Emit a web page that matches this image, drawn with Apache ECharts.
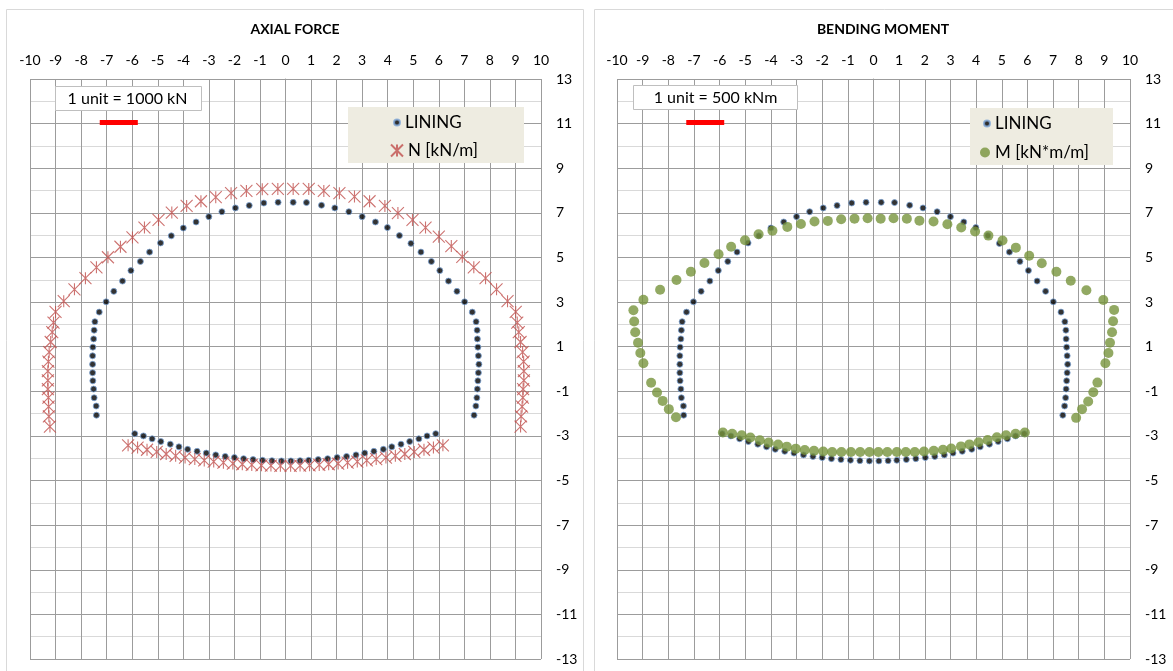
<!DOCTYPE html>
<html>
<head>
<meta charset="utf-8">
<script src="https://cdn.jsdelivr.net/npm/echarts@6/dist/echarts.min.js"></script>
<style>
  html, body { margin: 0; padding: 0; background: #fff; }
  #chart { width: 1173px; height: 671px; }
</style>
</head>
<body>
<div id="chart"></div>
<script>
// lining nodes: left wall (bottom -> top), crown, right wall (top -> bottom)
const liningArch = [
  [-7.40, -2.07], [-7.41, -1.66], [-7.49, -1.29], [-7.51, -0.90], [-7.54, -0.53], [-7.55, -0.17],
  [-7.55, 0.21], [-7.55, 0.59], [-7.54, 0.98], [-7.51, 1.35], [-7.49, 1.74], [-7.46, 2.12],
  [-7.29, 2.55], [-7.02, 3.01], [-6.72, 3.48], [-6.38, 3.94], [-6.05, 4.41], [-5.68, 4.82],
  [-5.32, 5.24], [-4.89, 5.65], [-4.47, 5.97], [-4.00, 6.32], [-3.50, 6.59], [-3.00, 6.83],
  [-2.49, 7.05], [-1.96, 7.22], [-1.42, 7.33], [-0.85, 7.44], [-0.29, 7.47], [0.30, 7.47],
  [0.82, 7.46], [1.41, 7.34], [1.93, 7.22], [2.48, 7.05], [3.00, 6.83], [3.52, 6.59],
  [3.99, 6.34], [4.46, 5.98], [4.91, 5.63], [5.30, 5.24], [5.71, 4.82], [6.04, 4.41],
  [6.38, 3.94], [6.71, 3.48], [7.01, 3.01], [7.31, 2.55],
  [7.46, 2.12], [7.50, 1.74], [7.51, 1.35], [7.53, 0.98], [7.55, 0.59], [7.57, 0.21],
  [7.55, -0.17], [7.53, -0.53], [7.51, -0.90], [7.49, -1.29], [7.45, -1.66], [7.38, -2.07]
]
const liningInvert = [
  [-5.90, -2.90], [-5.56, -3.00], [-5.22, -3.13], [-4.88, -3.25], [-4.51, -3.37], [-4.17, -3.49],
  [-3.83, -3.60], [-3.46, -3.69], [-3.10, -3.77], [-2.73, -3.85], [-2.36, -3.92], [-2.00, -3.97],
  [-1.64, -4.02], [-1.27, -4.06], [-0.90, -4.09], [-0.53, -4.11], [-0.16, -4.12], [0.21, -4.12],
  [0.57, -4.11], [0.91, -4.09], [1.28, -4.06], [1.65, -4.02], [2.02, -3.97], [2.39, -3.92],
  [2.76, -3.85], [3.10, -3.77], [3.46, -3.69], [3.83, -3.60], [4.16, -3.49], [4.52, -3.37],
  [4.86, -3.25], [5.22, -3.13], [5.54, -3.00], [5.88, -2.90]
]

// axial force N, plotted off the lining (1 unit = 1000 kN)
const axialArch = [
  [-9.22, -2.58], [-9.26, -2.12], [-9.27, -1.69], [-9.28, -1.28], [-9.30, -0.90], [-9.30, -0.51],
  [-9.30, -0.10], [-9.28, 0.33], [-9.25, 0.76], [-9.19, 1.21], [-9.13, 1.65], [-9.08, 2.08],
  [-9.00, 2.56], [-8.68, 3.04], [-8.26, 3.57], [-7.83, 4.07], [-7.40, 4.56], [-6.95, 5.01],
  [-6.46, 5.48], [-5.99, 5.90], [-5.52, 6.34], [-4.97, 6.68], [-4.45, 7.01], [-3.87, 7.31],
  [-3.31, 7.52], [-2.73, 7.70], [-2.13, 7.88], [-1.53, 7.98], [-0.91, 8.06], [-0.30, 8.07],
  [0.30, 8.07], [0.91, 8.07], [1.50, 7.98], [2.11, 7.88], [2.70, 7.73], [3.29, 7.52],
  [3.89, 7.31], [4.40, 6.99], [4.97, 6.68], [5.48, 6.34], [6.00, 5.93], [6.49, 5.51],
  [6.92, 5.03], [7.37, 4.56], [7.83, 4.07], [8.26, 3.57], [8.69, 3.04], [9.01, 2.56],
  [9.07, 2.08], [9.13, 1.65], [9.20, 1.21], [9.28, 0.76], [9.32, 0.33], [9.33, -0.10],
  [9.33, -0.51], [9.30, -0.90], [9.29, -1.28], [9.26, -1.69], [9.22, -2.12], [9.20, -2.58]
]
const axialInvert = [
  [-6.16, -3.42], [-5.79, -3.52], [-5.42, -3.62], [-5.04, -3.72], [-4.67, -3.81], [-4.30, -3.89],
  [-3.93, -3.97], [-3.55, -4.04], [-3.18, -4.10], [-2.81, -4.15], [-2.43, -4.20], [-2.06, -4.24],
  [-1.69, -4.27], [-1.32, -4.30], [-0.94, -4.32], [-0.57, -4.33], [-0.20, -4.34], [0.20, -4.34],
  [0.57, -4.33], [0.94, -4.32], [1.32, -4.30], [1.69, -4.27], [2.06, -4.24], [2.43, -4.20],
  [2.81, -4.15], [3.18, -4.10], [3.55, -4.04], [3.93, -3.97], [4.30, -3.89], [4.67, -3.81],
  [5.04, -3.72], [5.42, -3.62], [5.79, -3.52], [6.16, -3.42]
]

// bending moment M, plotted off the lining (1 unit = 500 kNm)
const momentArch = [
  [-7.70, -2.16], [-7.98, -1.80], [-8.22, -1.43], [-8.44, -1.05], [-8.67, -0.62],
  [-8.97, 0.26], [-9.09, 0.72], [-9.18, 1.18], [-9.29, 1.65], [-9.33, 2.13], [-9.36, 2.63],
  [-8.97, 3.10], [-8.32, 3.55], [-7.68, 3.99], [-7.12, 4.36], [-6.59, 4.75], [-6.04, 5.14],
  [-5.55, 5.48], [-5.01, 5.77], [-4.48, 6.04], [-3.94, 6.20], [-3.36, 6.37], [-2.83, 6.50],
  [-2.30, 6.61], [-1.78, 6.64], [-1.26, 6.71], [-0.74, 6.74], [-0.23, 6.76], [0.28, 6.74],
  [0.78, 6.76], [1.30, 6.74], [1.79, 6.65], [2.34, 6.61], [2.88, 6.49], [3.42, 6.34],
  [3.96, 6.16], [4.48, 5.98], [5.03, 5.76], [5.55, 5.44], [6.07, 5.08], [6.56, 4.74],
  [7.13, 4.36], [7.69, 3.96], [8.30, 3.53], [8.96, 3.09],
  [9.38, 2.65], [9.34, 2.14], [9.30, 1.65], [9.22, 1.18], [9.16, 0.72], [9.04, 0.26],
  [8.73, -0.61], [8.57, -1.04], [8.37, -1.46], [8.13, -1.80], [7.90, -2.19]
]
const momentInvert = [
  [-5.87, -2.85], [-5.51, -2.90], [-5.14, -2.97], [-4.80, -3.07], [-4.43, -3.19], [-4.09, -3.30],
  [-3.72, -3.39], [-3.38, -3.48], [-3.03, -3.57], [-2.68, -3.63], [-2.32, -3.67], [-1.96, -3.70],
  [-1.61, -3.72], [-1.25, -3.72], [-0.88, -3.72], [-0.52, -3.72], [-0.16, -3.72], [0.19, -3.72],
  [0.54, -3.72], [0.91, -3.72], [1.26, -3.72], [1.61, -3.72], [1.97, -3.70], [2.35, -3.67],
  [2.71, -3.62], [3.03, -3.56], [3.41, -3.47], [3.74, -3.38], [4.10, -3.28], [4.45, -3.18],
  [4.81, -3.06], [5.17, -2.97], [5.54, -2.90], [5.90, -2.85]
]

// red scale bars under the unit boxes
const scaleBarN = [[-7.27, 11.05], [-5.78, 11.05]]
const scaleBarM = [[-7.30, 11.05], [-5.82, 11.05]]

const titles = ['AXIAL FORCE', 'BENDING MOMENT']
const unitNotes = ['1 unit = 1000 kN', '1 unit = 500 kNm']
const legendNames = ['LINING', 'N [kN/m]', 'M [kN*m/m]']

const FONT = 'Lato, "Open Sans", sans-serif'
// excel "star" marker: an X with a vertical stroke
const STAR = 'path://M0 0 L12 12 M12 0 L0 12 M6 0 L6 12'

const chart = echarts.init(document.getElementById('chart'))

const makeX = gridIndex => ({
  type: 'value', gridIndex, min: -10, max: 10, interval: 1, position: 'top',
  axisLine: { show: false },
  axisTick: { show: false },
  axisLabel: { color: '#000', fontSize: 14, fontFamily: FONT, margin: 12 },
  splitLine: { lineStyle: { color: '#9c9c9c', width: 1 } }
})

const makeY = gridIndex => ({
  type: 'value', gridIndex, min: -13, max: 13, interval: 2, position: 'right',
  axisLine: { show: true, lineStyle: { color: '#9c9c9c' } },
  axisTick: { show: true, inside: false, length: 6, lineStyle: { color: '#9c9c9c' } },
  minorTick: { show: false, splitNumber: 2 },
  axisLabel: { color: '#000', fontSize: 14, fontFamily: FONT, margin: 15 },
  splitLine: { lineStyle: { color: '#9c9c9c', width: 1 } },
  minorSplitLine: { show: true, lineStyle: { color: '#d9d9d9', width: 1 } }
})

const liningStyle = {
  symbol: 'circle', symbolSize: 6,
  itemStyle: { color: '#000', borderColor: '#7ea6d8', borderWidth: 1 }
}
const axialStyle = {
  symbol: STAR, symbolSize: 12,
  itemStyle: { color: 'transparent', borderColor: '#c0504d', borderWidth: 1.1 }
}
const momentStyle = {
  symbol: 'circle', symbolSize: 10,
  itemStyle: { color: '#77933c' }
}

const scatter = (name, data, idx, style) => Object.assign({
  name, type: 'scatter', data, xAxisIndex: idx, yAxisIndex: idx, z: 3, silent: true
}, style)

const bar = (data, idx) => ({
  name: 'scale' + idx, type: 'line', data, xAxisIndex: idx, yAxisIndex: idx,
  symbol: 'none', silent: true, z: 3,
  lineStyle: { color: '#ff0000', width: 5, cap: 'butt' }
})

const legendText = { color: '#000', fontSize: 17, fontFamily: FONT }

const option = {
  animation: false,
  title: [
    { text: titles[0], left: 295, top: 22, textAlign: 'center', padding: 0,
      textStyle: { color: '#000', fontSize: 14, fontWeight: 'bold', fontFamily: FONT } },
    { text: titles[1], left: 883, top: 22, textAlign: 'center', padding: 0,
      textStyle: { color: '#000', fontSize: 14, fontWeight: 'bold', fontFamily: FONT } }
  ],
  grid: [
    { left: 30, top: 79, width: 511, height: 580 },
    { left: 617, top: 79, width: 513, height: 580 }
  ],
  xAxis: [makeX(0), makeX(1)],
  yAxis: [makeY(0), makeY(1)],
  legend: [
    { data: [legendNames[0]], left: 393, top: 114, padding: 0, itemWidth: 6, itemHeight: 6, textStyle: legendText },
    { data: [legendNames[1]], left: 390, top: 142, padding: 0, itemWidth: 12, itemHeight: 12, textStyle: legendText },
    { data: [legendNames[0]], left: 983, top: 115, padding: 0, itemWidth: 6, itemHeight: 6, textStyle: legendText },
    { data: [legendNames[2]], left: 980, top: 144, padding: 0, itemWidth: 10, itemHeight: 10, textStyle: legendText }
  ],
  graphic: [
    // panel frames
    { type: 'rect', z: 0, shape: { x: 6.5, y: 9.5, width: 577, height: 680 },
      style: { fill: 'none', stroke: '#d9d9d9', lineWidth: 1 } },
    { type: 'rect', z: 0, shape: { x: 594.5, y: 9.5, width: 600, height: 680 },
      style: { fill: 'none', stroke: '#d9d9d9', lineWidth: 1 } },
    // legend backgrounds
    { type: 'rect', z: 1, shape: { x: 348, y: 107, width: 176, height: 56 }, style: { fill: '#eeece1' } },
    { type: 'rect', z: 1, shape: { x: 970, y: 108, width: 143, height: 57 }, style: { fill: '#eeece1' } },
    // unit notes
    { type: 'rect', z: 1, shape: { x: 55.5, y: 86.5, width: 146, height: 24 },
      style: { fill: '#fff', stroke: '#bfbfbf', lineWidth: 1 } },
    { type: 'text', z: 2, x: 127.5, y: 98.5,
      style: { text: unitNotes[0], align: 'center', verticalAlign: 'middle',
        font: '16px ' + FONT, fill: '#000' } },
    { type: 'rect', z: 1, shape: { x: 633.5, y: 85.5, width: 164, height: 24 },
      style: { fill: '#fff', stroke: '#bfbfbf', lineWidth: 1 } },
    { type: 'text', z: 2, x: 715.5, y: 97.5,
      style: { text: unitNotes[1], align: 'center', verticalAlign: 'middle',
        font: '16px ' + FONT, fill: '#000' } }
  ],
  series: [
    scatter(legendNames[0], liningArch, 0, liningStyle),
    scatter(legendNames[0], liningInvert, 0, liningStyle),
    scatter(legendNames[1], axialArch, 0, axialStyle),
    scatter(legendNames[1], axialInvert, 0, axialStyle),
    bar(scaleBarN, 0),
    scatter(legendNames[0], liningArch, 1, liningStyle),
    scatter(legendNames[0], liningInvert, 1, liningStyle),
    scatter(legendNames[2], momentArch, 1, momentStyle),
    scatter(legendNames[2], momentInvert, 1, momentStyle),
    bar(scaleBarM, 1)
  ]
}

chart.setOption(option)
</script>
</body>
</html>
